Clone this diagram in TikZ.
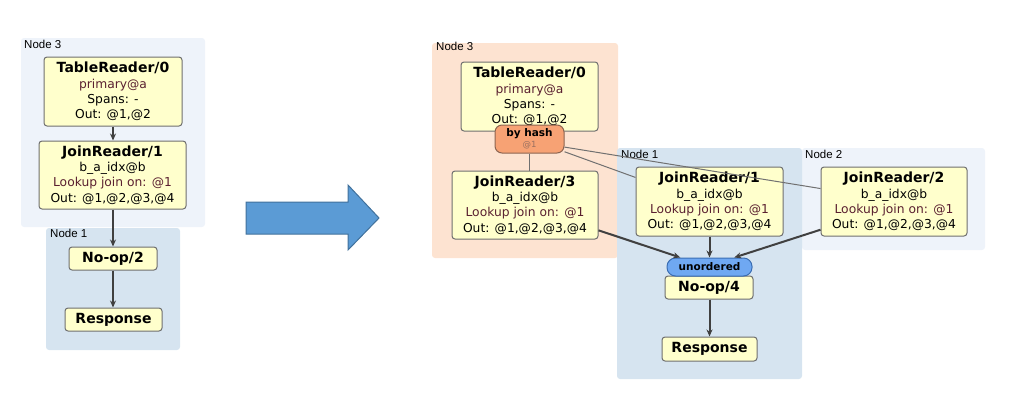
\documentclass[tikz,border=0pt]{standalone}
\usepackage{fontspec}
\setmainfont{DejaVu Sans}
\newfontfamily\lblfont{Liberation Sans}
\usetikzlibrary{arrows.meta}

\definecolor{opfill}{HTML}{FFFFCC}
\definecolor{opline}{HTML}{6F6F6F}
\definecolor{idxred}{HTML}{5A2030}
\definecolor{zonepale}{HTML}{EEF3FA}
\definecolor{zoneblue}{HTML}{D6E4F0}
\definecolor{zonepeach}{HTML}{FDE3D1}
\definecolor{hashfill}{HTML}{F7A274}
\definecolor{hashline}{HTML}{8C6450}
\definecolor{hashgray}{HTML}{9A7060}
\definecolor{unordfill}{HTML}{6FA8F2}
\definecolor{unordline}{HTML}{3A6DB2}
\definecolor{flowgray}{HTML}{404040}
\definecolor{linkgray}{HTML}{707070}
\definecolor{bigfill}{HTML}{5B9BD5}
\definecolor{bigline}{HTML}{41719C}

\newcommand{\optitle}[1]{{\fontsize{14}{16}\selectfont\bfseries #1}}

\begin{document}
\begin{tikzpicture}[x=1pt, y=-1pt,
  every node/.style={inner sep=0pt, align=center},
  op/.style={rectangle, rounded corners=3pt, draw=opline, fill=opfill, line width=1pt,
    font=\fontsize{12.3}{15.3}\selectfont},
  zlabel/.style={anchor=north west, font=\lblfont\fontsize{11.5}{13}\selectfont},
  flow/.style={-{Stealth[length=7pt,width=6pt]}, line width=2pt, draw=flowgray},
  link/.style={line width=1pt, draw=linkgray}
]
\useasboundingbox (0,0) rectangle (1027,402);

% left plan
\fill[zonepale, rounded corners=3pt] (21,38) rectangle (205,227);
\fill[zoneblue, rounded corners=3pt] (46,228) rectangle (180,350);
\node[zlabel] (n3left) at (24,40) {Node 3};
\node[zlabel] (n1left) at (50,229) {Node 1};

\node[op, minimum width=138, minimum height=69] (tr0L) at (113,91.5)
  {\optitle{TableReader/0}\\\textcolor{idxred}{primary@a}\\Spans: -\\Out: @1,@2};
\node[op, minimum width=147, minimum height=68] (jr1L) at (112.5,175)
  {\optitle{JoinReader/1}\\b\_a\_idx@b\\\textcolor{idxred}{Lookup join on: @1}\\Out: @1,@2,@3,@4};
\node[op, minimum width=88, minimum height=23] (nopL) at (113,258.5) {\optitle{No-op/2}};
\node[op, minimum width=97, minimum height=23] (respL) at (113.5,319.5) {\optitle{Response}};

\draw[flow, line width=1.5pt] (tr0L.south) -- (tr0L.south |- jr1L.north);
\draw[flow] (jr1L.south -| nopL.north) -- (nopL.north);
\draw[flow] (nopL.south) -- (nopL.south |- respL.north);

% big arrow
\draw[fill=bigfill, draw=bigline, line width=1pt] (246,202) -- (348,202) -- (348,185)
  -- (379,218) -- (348,250) -- (348,234) -- (246,234) -- cycle;

% right plan
\fill[zonepeach, rounded corners=3pt] (432,43) rectangle (618,258);
\fill[zonepale, rounded corners=3pt] (802,148) rectangle (985,250);
\fill[zoneblue, rounded corners=3pt] (617,148) rectangle (802,379);
\node[zlabel] (n3right) at (436,42) {Node 3};
\node[zlabel] (n1right) at (621,150) {Node 1};
\node[zlabel] (n2right) at (805,150) {Node 2};

\node[op, minimum width=137, minimum height=69] (tr0R) at (529.5,96.5)
  {\optitle{TableReader/0}\\\textcolor{idxred}{primary@a}\\Spans: -\\Out: @1,@2};
\node[op, minimum width=146, minimum height=68] (jr3) at (525,205)
  {\optitle{JoinReader/3}\\b\_a\_idx@b\\\textcolor{idxred}{Lookup join on: @1}\\Out: @1,@2,@3,@4};
\node[op, minimum width=147, minimum height=69] (jr1R) at (709.5,201.5)
  {\optitle{JoinReader/1}\\b\_a\_idx@b\\\textcolor{idxred}{Lookup join on: @1}\\Out: @1,@2,@3,@4};
\node[op, minimum width=146, minimum height=69] (jr2) at (894,201.5)
  {\optitle{JoinReader/2}\\b\_a\_idx@b\\\textcolor{idxred}{Lookup join on: @1}\\Out: @1,@2,@3,@4};
\node[op, minimum width=88, minimum height=23] (nop4) at (709,287.5) {\optitle{No-op/4}};
\node[op, minimum width=95, minimum height=24] (respR) at (709.5,349) {\optitle{Response}};

\node[rectangle, rounded corners=7pt, draw=hashline, fill=hashfill, line width=1pt,
  minimum width=69, minimum height=28] (hash) at (529.5,139)
  {{\fontsize{10.5}{12}\selectfont\bfseries by hash}\\[-1pt]{\fontsize{8.5}{10}\selectfont\color{hashgray}@1}};
\node[rectangle, rounded corners=8.5pt, draw=unordline, fill=unordfill, line width=1pt,
  minimum width=85, minimum height=18, font=\fontsize{10.5}{12}\selectfont\bfseries] (unord)
  at (709.5,267) {unordered};

\draw[link] (hash.south) -- (hash.south |- jr3.north);
\draw[link] (hash.-20) -- (jr1R.162);
\draw[link] (hash.-13) -- (jr2.170);

\draw[flow] (jr3.-19) -- (unord.162);
\draw[flow] (jr1R.south) -- (jr1R.south |- unord.north);
\draw[flow] (jr2.201) -- (unord.21);
\draw[flow] (nop4.south -| respR.north) -- (respR.north);
\end{tikzpicture}
\end{document}
